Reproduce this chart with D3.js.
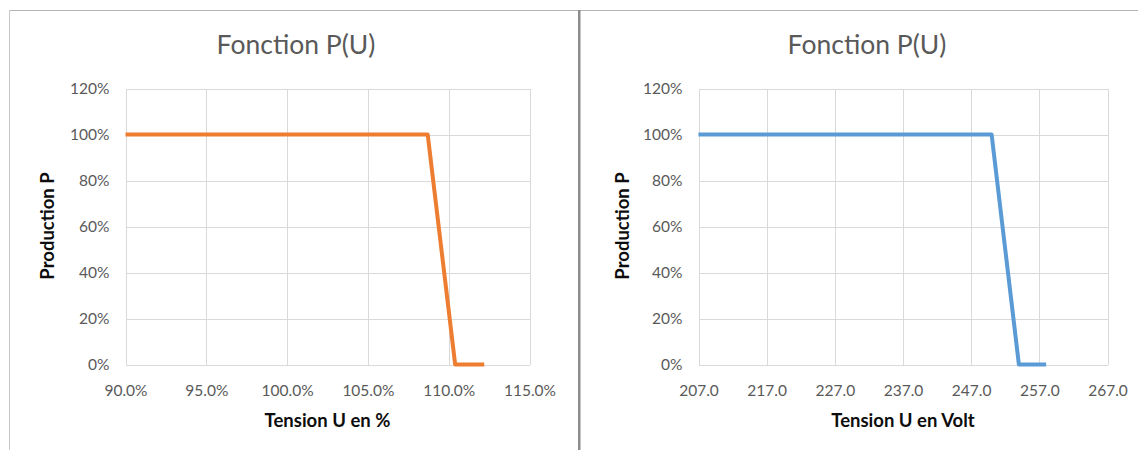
<!DOCTYPE html>
<meta charset="utf-8">
<style>

body {
    margin: 0;
    background: #fff;
}

text {
    font-family: Lato, "Open Sans", sans-serif;
}

.grid line {
    stroke: #d9d9d9;
    stroke-width: 1;
    shape-rendering: crispEdges;
}

.tick text {
    fill: #595959;
    font-size: 15.5px;
}

.title {
    fill: #595959;
    font-size: 26.5px;
}

.axis-title {
    fill: #0d0d0d;
    font-size: 18.5px;
    font-weight: bold;
}

</style>
<body>
<script src="https://cdn.jsdelivr.net/npm/d3@7"></script>
<script>

// left chart: tension in % of 230 V
var tensionPct = [0.90, 1.087, 1.104, 1.122];
// right chart: tension in volt
var tensionVolt = [207, 250, 254, 258];
// production, same for both
var production = [1, 1, 0, 0];

var pctTicks = [0.90, 0.95, 1.00, 1.05, 1.10, 1.15];
var voltTicks = [207, 217, 227, 237, 247, 257, 267];
var yTicks = [0, 0.2, 0.4, 0.6, 0.8, 1.0, 1.2];

var svg = d3.select("body").append("svg")
    .attr("width", 1138)
    .attr("height", 450);

// outer frame of the two excel charts
svg.append("line")
    .attr("x1", 9).attr("x2", 1138)
    .attr("y1", 10.5).attr("y2", 10.5)
    .attr("stroke", "#b4b4b4");
svg.append("line")
    .attr("x1", 9.5).attr("x2", 9.5)
    .attr("y1", 10).attr("y2", 450)
    .attr("stroke", "#c8c8c8");
svg.append("rect")
    .attr("x", 578).attr("y", 10)
    .attr("width", 2.5).attr("height", 440)
    .attr("fill", "#8c8c8c");

function drawChart(opts) {
    var x = d3.scaleLinear()
        .domain([opts.ticks[0], opts.ticks[opts.ticks.length - 1]])
        .range([opts.left, opts.right]);

    var y = d3.scaleLinear()
        .domain([0, 1.2])
        .range([364.5, 88.5]);

    var g = svg.append("g");

    // vertical gridlines
    g.append("g")
        .attr("class", "grid")
        .attr("transform", "translate(0,88.5)")
        .call(d3.axisBottom(x).tickValues(opts.ticks).tickSize(276).tickFormat(""))
        .call(function(s) { s.select(".domain").remove(); });

    // horizontal gridlines + y labels
    g.append("g")
        .attr("class", "grid")
        .attr("transform", "translate(" + opts.left + ",0)")
        .call(d3.axisLeft(y).tickValues(yTicks).tickSize(-(opts.right - opts.left))
            .tickPadding(16).tickFormat(d3.format(".0%")))
        .call(function(s) { s.select(".domain").remove(); });

    // x labels
    g.append("g")
        .attr("class", "grid")
        .attr("transform", "translate(0,364.5)")
        .call(d3.axisBottom(x).tickValues(opts.ticks).tickSize(0)
            .tickPadding(20).tickFormat(opts.format))
        .call(function(s) { s.select(".domain").remove(); });

    var line = d3.line()
        .x(function(d) { return x(d[0]); })
        .y(function(d) { return y(d[1]); });

    g.append("path")
        .datum(d3.zip(opts.xs, production))
        .attr("d", line)
        .attr("fill", "none")
        .attr("stroke", opts.color)
        .attr("stroke-width", 4)
        .attr("stroke-linejoin", "round");

    g.append("text")
        .attr("class", "title")
        .attr("x", opts.titleX)
        .attr("y", 54)
        .attr("text-anchor", "middle")
        .text("Fonction P(U)");

    g.append("text")
        .attr("class", "axis-title")
        .attr("x", (opts.left + opts.right) / 2)
        .attr("y", 427)
        .attr("text-anchor", "middle")
        .text(opts.xTitle);

    g.append("text")
        .attr("class", "axis-title")
        .attr("transform", "translate(" + opts.yTitleX + ",226) rotate(-90)")
        .attr("text-anchor", "middle")
        .text("Production P");
}

drawChart({
    xs: tensionPct,
    ticks: pctTicks,
    format: d3.format(".1%"),
    left: 125.5, right: 529.5,
    color: "#ed7d31",
    titleX: 296,
    yTitleX: 54,
    xTitle: "Tension U en %"
});

drawChart({
    xs: tensionVolt,
    ticks: voltTicks,
    format: d3.format(".1f"),
    left: 698.5, right: 1107.5,
    color: "#5b9bd5",
    titleX: 867,
    yTitleX: 629,
    xTitle: "Tension U en Volt"
});

</script>
</body>
</html>
